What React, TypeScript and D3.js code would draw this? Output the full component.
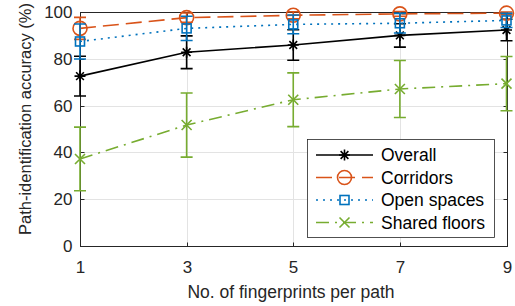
import React, { useEffect, useRef } from 'react';
import * as d3 from 'd3';

const fingerprints = [1, 3, 5, 7, 9];
const yTicks = [0, 20, 40, 60, 80, 100];

const overall = [72.6, 82.8, 85.9, 90.0, 92.3];
const overallErr = [8.5, 7.0, 6.5, 5.0, 4.6];
const corridors = [93.0, 97.6, 98.6, 99.2, 99.5];
const corridorsErr = [4.7, 2.0, 1.5, 1.0, 0.5];
const openSpaces = [87.4, 93.0, 94.7, 95.2, 96.4];
const openSpacesErr = [7.5, 5.2, 4.0, 4.2, 3.0];
const sharedFloors = [37.2, 51.7, 62.5, 67.1, 69.4];
const sharedFloorsErr = [13.6, 13.7, 11.5, 12.2, 11.6];

const seriesNames = ['Overall', 'Corridors', 'Open spaces', 'Shared floors'];

const App: React.FC = () => {
	const svgRef = useRef<SVGSVGElement>(null);

	useEffect(() => {
		if (svgRef.current == null) return;
		const width = 515;
		const height = 306;
		const margin = { top: 12, right: 8, bottom: 60, left: 80 };

		const svg = d3.select(svgRef.current)
			.attr('width', width)
			.attr('height', height);
		svg.selectAll('*').remove();

		const font = 'Liberation Sans, Arial, Helvetica, sans-serif';

		const x = d3.scaleLinear().domain([1, 9]).range([margin.left, width - margin.right - 0.5]);
		const y = d3.scaleLinear().domain([0, 100]).range([height - margin.bottom, margin.top]);

		svg.append('rect').attr('width', width).attr('height', height).attr('fill', '#fff');

		// grid
		const grid = svg.append('g').attr('stroke', '#e3e3e3').attr('stroke-width', 1);
		yTicks.forEach(t => {
			grid.append('line')
				.attr('x1', x(1)).attr('x2', x(9))
				.attr('y1', Math.round(y(t)) + 0.5).attr('y2', Math.round(y(t)) + 0.5);
		});
		fingerprints.forEach(t => {
			grid.append('line')
				.attr('y1', y(0)).attr('y2', y(100))
				.attr('x1', Math.round(x(t)) + 0.5).attr('x2', Math.round(x(t)) + 0.5);
		});

		// axes box
		const axisColor = '#262626';
		const x0 = Math.round(x(1)) + 0.5, x1 = Math.round(x(9)) + 0.5;
		const yb = Math.round(y(0)) + 0.5, yt = Math.round(y(100)) + 0.5;
		svg.append('rect')
			.attr('x', x0).attr('y', yt).attr('width', x1 - x0).attr('height', yb - yt)
			.attr('fill', 'none').attr('stroke', axisColor).attr('stroke-width', 1);

		const tickLen = 4;
		yTicks.forEach(t => {
			const yy = Math.round(y(t)) + 0.5;
			svg.append('line').attr('x1', x0).attr('x2', x0 + tickLen).attr('y1', yy).attr('y2', yy).attr('stroke', axisColor);
			svg.append('line').attr('x1', x1).attr('x2', x1 - tickLen).attr('y1', yy).attr('y2', yy).attr('stroke', axisColor);
			svg.append('text')
				.attr('x', x0 - 8).attr('y', yy).attr('dy', '0.35em')
				.attr('text-anchor', 'end')
				.style('font-family', font).style('font-size', '17px').style('fill', axisColor)
				.text(t);
		});
		fingerprints.forEach(t => {
			const xx = Math.round(x(t)) + 0.5;
			svg.append('line').attr('x1', xx).attr('x2', xx).attr('y1', yb).attr('y2', yb - tickLen).attr('stroke', axisColor);
			svg.append('line').attr('x1', xx).attr('x2', xx).attr('y1', yt).attr('y2', yt + tickLen).attr('stroke', axisColor);
			svg.append('text')
				.attr('x', xx).attr('y', yb + 26)
				.attr('text-anchor', 'middle')
				.style('font-family', font).style('font-size', '17px').style('fill', axisColor)
				.text(t);
		});

		svg.append('text')
			.attr('x', 291).attr('y', 298)
			.attr('text-anchor', 'middle')
			.style('font-family', font).style('font-size', '17.5px').style('fill', axisColor)
			.text('No. of fingerprints per path');

		svg.append('text')
			.attr('transform', `translate(31, 119) rotate(-90)`)
			.attr('text-anchor', 'middle')
			.style('font-family', font).style('font-size', '16.5px').style('fill', axisColor)
			.text('Path-identification accuracy (%)');

		const series = [
			{ vals: overall, err: overallErr, color: '#000000', dash: null as string | null, marker: 'star' },
			{ vals: corridors, err: corridorsErr, color: '#D95319', dash: '16,7', marker: 'circle' },
			{ vals: openSpaces, err: openSpacesErr, color: '#0072BD', dash: '2,5', marker: 'square' },
			{ vals: sharedFloors, err: sharedFloorsErr, color: '#77AC30', dash: '13,6,2,6', marker: 'x' },
		];

		const drawMarker = (g: any, type: string, cx: number, cy: number, color: string) => {
			if (type === 'circle') {
				g.append('circle').attr('cx', cx).attr('cy', cy).attr('r', 7)
					.attr('fill', 'none').attr('stroke', color).attr('stroke-width', 1.6);
			} else if (type === 'square') {
				g.append('rect').attr('x', cx - 4.5).attr('y', cy - 4.5).attr('width', 9).attr('height', 9)
					.attr('fill', 'none').attr('stroke', color).attr('stroke-width', 1.6);
			} else if (type === 'x') {
				const s = 5;
				g.append('path').attr('d', `M${cx - s},${cy - s}L${cx + s},${cy + s}M${cx - s},${cy + s}L${cx + s},${cy - s}`)
					.attr('stroke', color).attr('stroke-width', 1.6);
			} else {
				const s = 5.5;
				const d = s * 0.707;
				g.append('path').attr('d', `M${cx - s},${cy}L${cx + s},${cy}M${cx},${cy - s}L${cx},${cy + s}M${cx - d},${cy - d}L${cx + d},${cy + d}M${cx - d},${cy + d}L${cx + d},${cy - d}`)
					.attr('stroke', color).attr('stroke-width', 1.6);
			}
		};

		const line = d3.line<number>().x((_, i) => x(fingerprints[i])).y(d => y(d));

		series.forEach(s => {
			const g = svg.append('g');
			const path = g.append('path').attr('d', line(s.vals))
				.attr('fill', 'none').attr('stroke', s.color).attr('stroke-width', 1.6);
			if (s.dash) path.attr('stroke-dasharray', s.dash);
			s.vals.forEach((v, i) => {
				const cx = x(fingerprints[i]);
				const lo = y(v - s.err[i]);
				const hi = y(v + s.err[i]);
				g.append('path').attr('d', `M${cx},${lo}L${cx},${hi}M${cx - 6},${lo}L${cx + 6},${lo}M${cx - 6},${hi}L${cx + 6},${hi}`)
					.attr('stroke', s.color).attr('stroke-width', 1.6).attr('fill', 'none');
				drawMarker(g, s.marker, cx, y(v), s.color);
			});
		});

		// legend
		const lg = svg.append('g');
		lg.append('rect').attr('x', 307.5).attr('y', 139.5).attr('width', 187).attr('height', 98)
			.attr('fill', '#fff').attr('stroke', axisColor).attr('stroke-width', 0.8);
		series.forEach((s, i) => {
			const ly = 155 + i * 22.5;
			const l = lg.append('line').attr('x1', 316).attr('x2', 373).attr('y1', ly).attr('y2', ly)
				.attr('stroke', s.color).attr('stroke-width', 1.6);
			if (s.dash) l.attr('stroke-dasharray', s.dash);
			drawMarker(lg, s.marker, 344.5, ly, s.color);
			lg.append('text')
				.attr('x', 381).attr('y', ly).attr('dy', '0.35em')
				.style('font-family', font).style('font-size', '17.5px').style('fill', '#000')
				.text(seriesNames[i]);
		});
	}, []);

	return <svg ref={svgRef} style={{ position: 'absolute', left: 0, top: 0 }}></svg>;
};

export default App;
